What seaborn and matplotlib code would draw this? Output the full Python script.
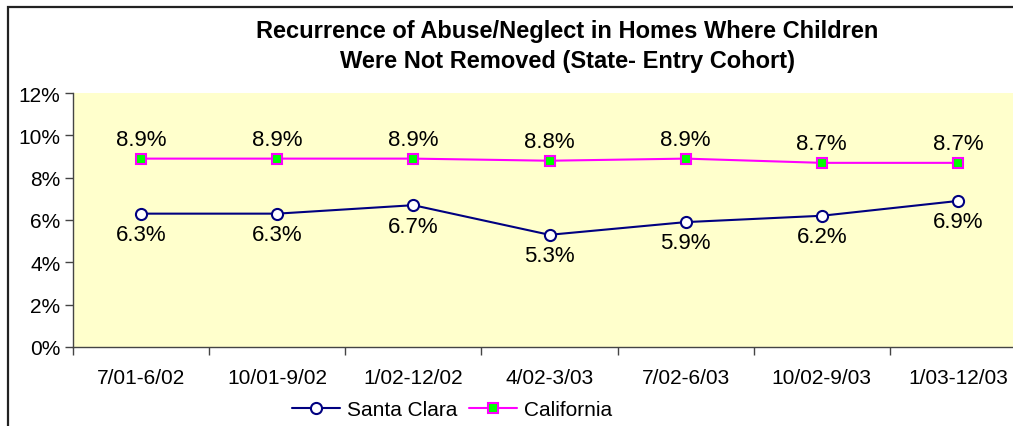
import matplotlib
matplotlib.use("Agg")
import matplotlib.pyplot as plt
import pandas as pd
import seaborn as sns
from matplotlib.lines import Line2D
from matplotlib.patches import Rectangle
from matplotlib.ticker import FixedLocator, PercentFormatter

# Data
periods = ["7/01-6/02", "10/01-9/02", "1/02-12/02", "4/02-3/03",
           "7/02-6/03", "10/02-9/03", "1/03-12/03"]
santa_clara = [6.3, 6.3, 6.7, 5.3, 5.9, 6.2, 6.9]
california = [8.9, 8.9, 8.9, 8.8, 8.9, 8.7, 8.7]

sns.set_theme(style="white", rc={"text.color": "black", "xtick.color": "black",
                                 "ytick.color": "black", "axes.labelcolor": "black"})
plt.rcParams["font.family"] = ["Liberation Sans", "DejaVu Sans"]

df = pd.DataFrame({"period": periods, "Santa Clara": santa_clara,
                   "California": california})

fig = plt.figure(figsize=(10.13, 4.27), dpi=100)
fig.patch.set_facecolor("white")

# Outer chart frame (cropped at right and bottom)
fig.patches.append(Rectangle((7.5 / 1013, -0.05), 1.1, 1 - 8 / 427 + 0.05,
                             transform=fig.transFigure, fill=False,
                             edgecolor="#222222", linewidth=1.6))

ax = fig.add_axes([73 / 1013, 1 - 348 / 427, (1026 - 73) / 1013, (348 - 94) / 427])
ax.set_facecolor("#FFFFCC")

sns.lineplot(data=df, x="period", y="Santa Clara", ax=ax, color="#000080",
             linewidth=1.5, marker="o", markersize=8, markerfacecolor="white",
             markeredgecolor="#000080", markeredgewidth=1.5)
sns.lineplot(data=df, x="period", y="California", ax=ax, color="#FF00FF",
             linewidth=1.5, marker="s", markersize=7.5, markerfacecolor="#00FF00",
             markeredgecolor="#FF00FF", markeredgewidth=1.5)

# Data labels
for i, (sc, ca) in enumerate(zip(santa_clara, california)):
    ax.annotate(f"{sc:.1f}%", (i, sc), xytext=(0, -15), textcoords="offset points",
                ha="center", va="center", fontsize=16)
    ax.annotate(f"{ca:.1f}%", (i, ca), xytext=(0, 14), textcoords="offset points",
                ha="center", va="center", fontsize=16)

ax.set_xlim(-0.5, len(periods) - 0.5)
ax.set_ylim(0, 12)
ax.set_yticks(range(0, 13, 2))
ax.yaxis.set_major_formatter(PercentFormatter(decimals=0))
ax.set_xticks(range(len(periods)))
ax.set_xticklabels(periods)
ax.xaxis.set_minor_locator(FixedLocator([i - 0.5 for i in range(len(periods) + 1)]))
ax.tick_params(axis="x", which="major", length=0, pad=15, labelsize=15)
ax.tick_params(axis="x", which="minor", length=6, width=1, color="#444444",
               direction="out", bottom=True)
ax.tick_params(axis="y", length=6, width=1, color="#444444", direction="out",
               left=True, pad=3, labelsize=15)
ax.set_xlabel("")
ax.set_ylabel("")
for side in ["top", "right"]:
    ax.spines[side].set_visible(False)
for side in ["left", "bottom"]:
    ax.spines[side].set_color("#444444")
    ax.spines[side].set_linewidth(1)
ax.grid(False)

fig.text(567 / 1013, 1 - 46.5 / 427,
         "Recurrence of Abuse/Neglect in Homes Where Children\n"
         "Were Not Removed (State- Entry Cohort)",
         ha="center", va="center", fontsize=17, fontweight="bold",
         linespacing=1.4)

handles = [
    Line2D([], [], color="#000080", linewidth=1.5, marker="o", markersize=8,
           markerfacecolor="white", markeredgecolor="#000080", markeredgewidth=1.5),
    Line2D([], [], color="#FF00FF", linewidth=1.5, marker="s", markersize=7.5,
           markerfacecolor="#00FF00", markeredgecolor="#FF00FF", markeredgewidth=1.5),
]
fig.legend(handles, ["Santa Clara", "California"], loc="center",
           bbox_to_anchor=(452 / 1013, 1 - 411 / 427), ncol=2, frameon=False,
           fontsize=15, handlelength=2.3, handletextpad=0.3, columnspacing=0.6,
           borderpad=0)

fig.savefig("out.png", dpi=100)
